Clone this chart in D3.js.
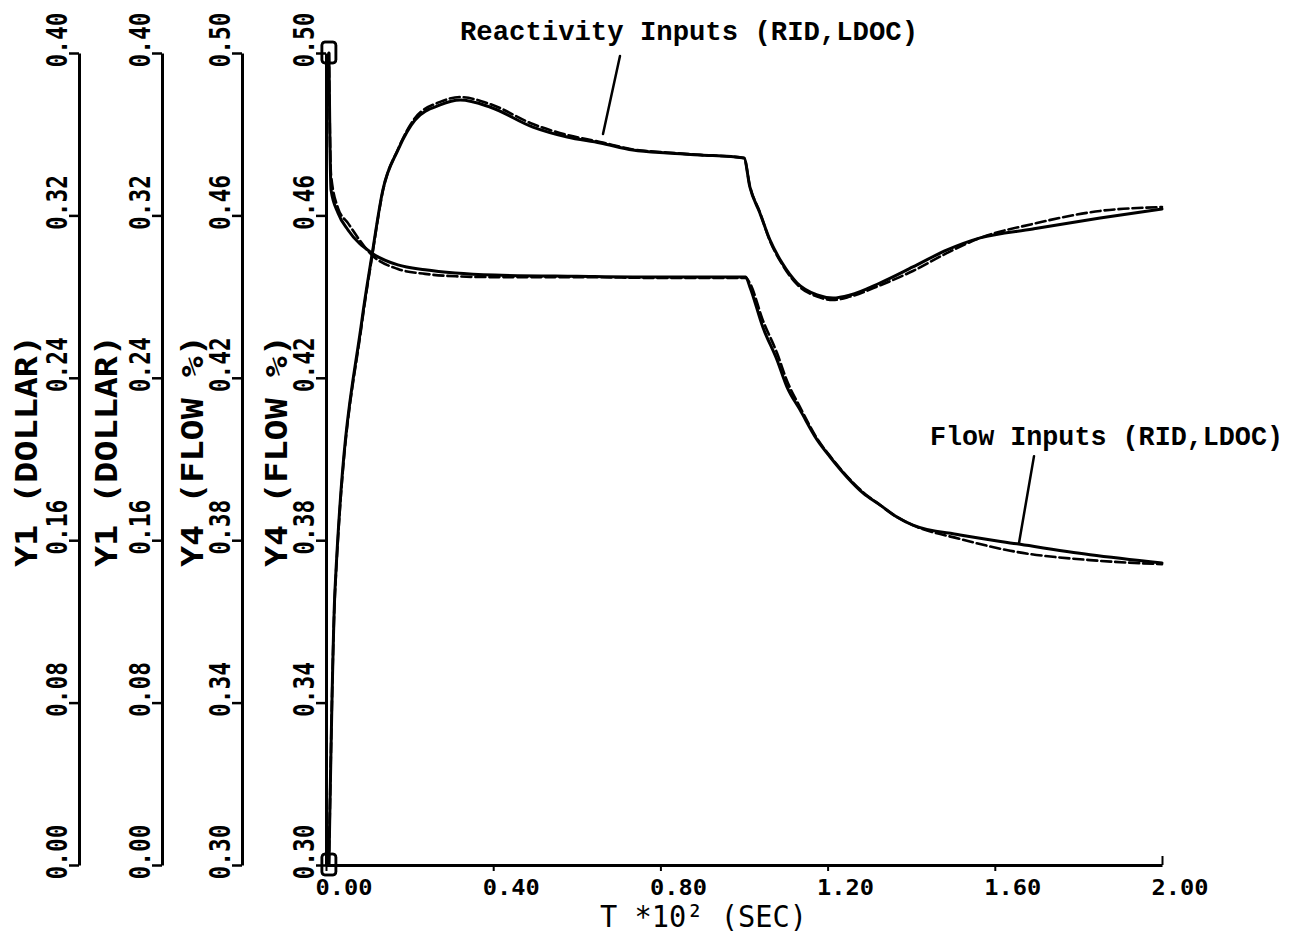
<!DOCTYPE html>
<html>
<head>
<meta charset="utf-8">
<script src="https://cdn.jsdelivr.net/npm/d3@7"></script>
<style>
  html, body { margin: 0; padding: 0; background: #fff; }
  svg { display: block; }
</style>
</head>
<body>
<svg id="chart" width="1296" height="933"></svg>
<script>
// Time base, units of 10^2 s
const xTicks = [0.00, 0.40, 0.80, 1.20, 1.60, 2.00];
const dollarTicks = [0.00, 0.08, 0.16, 0.24, 0.32, 0.40];
const flowTicks = [0.30, 0.34, 0.38, 0.42, 0.46, 0.50];
const axisNames = ["Y1 (DOLLAR)", "Y1 (DOLLAR)", "Y4 (FLOW %)", "Y4 (FLOW %)"];

// Reactivity (dollars) – RID and LDOC
const timeReact = [0.007, 0.0215, 0.086, 0.110, 0.136, 0.172, 0.213, 0.273, 0.321, 0.392,
  0.495, 0.577, 0.656, 0.734, 0.816, 0.895, 1.000, 1.014, 1.038, 1.062, 1.091, 1.127,
  1.175, 1.213, 1.254, 1.325, 1.404, 1.486, 1.565, 1.691, 1.852, 2.000];
const reactRID = [0, 0.1355, 0.2685, 0.3005, 0.3325, 0.3522, 0.3670, 0.3744, 0.3768, 0.3734,
  0.3635, 0.3586, 0.3557, 0.3522, 0.3507, 0.3498, 0.3483, 0.3340, 0.3212, 0.3079, 0.2966, 0.2867,
  0.2808, 0.2793, 0.2808, 0.2867, 0.2946, 0.3030, 0.3089, 0.3133, 0.3187, 0.3232];
const reactLDOC = [0, 0.1340, 0.2670, 0.2995, 0.3320, 0.3525, 0.3680, 0.3759, 0.3783, 0.3749,
  0.3650, 0.3596, 0.3562, 0.3525, 0.3510, 0.3498, 0.3483, 0.3345, 0.3215, 0.3075, 0.2960, 0.2860,
  0.2800, 0.2783, 0.2800, 0.2855, 0.2926, 0.3015, 0.3089, 0.3158, 0.3222, 0.3241];

// Flow fraction – RID and LDOC
const timeFlow = [0.007, 0.0096, 0.012, 0.0287, 0.0526, 0.110, 0.172, 0.237, 0.309, 0.404,
  0.600, 0.800, 1.004, 1.014, 1.045, 1.079, 1.103, 1.134, 1.175, 1.206, 1.246, 1.285,
  1.325, 1.366, 1.404, 1.517, 1.653, 1.828, 2.000];
const flowRID = [0.5000, 0.4768, 0.4663, 0.4606, 0.4564, 0.4507, 0.4478, 0.4466, 0.4458, 0.4453,
  0.4450, 0.4448, 0.4448, 0.4424, 0.4325, 0.4244, 0.4177, 0.4121, 0.4047, 0.4005, 0.3956, 0.3916,
  0.3887, 0.3857, 0.3837, 0.3813, 0.3791, 0.3764, 0.3744];
const flowLDOC = [0.5000, 0.4790, 0.4700, 0.4618, 0.4581, 0.4502, 0.4468, 0.4456, 0.4450, 0.4448,
  0.4448, 0.4446, 0.4446, 0.4433, 0.4342, 0.4261, 0.4192, 0.4128, 0.4050, 0.4007, 0.3958, 0.3918,
  0.3887, 0.3857, 0.3837, 0.3803, 0.3771, 0.3751, 0.3741];

// Callout labels: text anchor and leader line, in data units of the given scale
const callouts = [
  { text: "Reactivity Inputs (RID,LDOC)", scale: "dollar", tx: 0.3206, ty: 0.4064, len: 458,
    from: [0.7033, 0.3985], to: [0.6627, 0.3601] },
  { text: "Flow Inputs (RID,LDOC)", scale: "flow", tx: 1.445, ty: 0.4034, len: 353,
    from: [1.6938, 0.4007], to: [1.6579, 0.3793] }
];

(function () {
  const svg = d3.select("#chart");
  const W = 1296, H = 933;
  svg.append("rect").attr("width", W).attr("height", H).attr("fill", "#fff");

  const plotTop = 53, plotBottom = 865, plotLeft = 326, plotRight = 1162;
  const x = d3.scaleLinear().domain([0, 2]).range([plotLeft, plotRight]);
  const yDollar = d3.scaleLinear().domain([0, 0.4]).range([plotBottom, plotTop]);
  const yFlow = d3.scaleLinear().domain([0.3, 0.5]).range([plotBottom, plotTop]);
  const scales = { dollar: yDollar, flow: yFlow };

  const plotFont = "'DejaVu Sans Mono', monospace";
  const fmt = d3.format(".2f");

  // Stacked vertical axes on the left
  const axisDefs = [
    { pos: 79,  scale: yDollar, ticks: dollarTicks, name: axisNames[0], labelX: 37 },
    { pos: 162, scale: yDollar, ticks: dollarTicks, name: axisNames[1], labelX: 117 },
    { pos: 242, scale: yFlow,   ticks: flowTicks,   name: axisNames[2], labelX: 203 },
    { pos: 326, scale: yFlow,   ticks: flowTicks,   name: axisNames[3], labelX: 287 }
  ];

  axisDefs.forEach(a => {
    const g = svg.append("g").attr("transform", `translate(${a.pos},0)`)
      .call(d3.axisLeft(a.scale).tickValues(a.ticks).tickSize(10).tickSizeOuter(0).tickFormat(fmt));
    g.select(".domain").attr("stroke", "#000").attr("stroke-width", 3);
    g.selectAll(".tick line").attr("stroke", "#000").attr("stroke-width", 2.5);
    g.selectAll(".tick text")
      .attr("transform", "rotate(-90)")
      .attr("x", -14).attr("y", -12).attr("dy", 0)
      .attr("text-anchor", "start")
      .attr("fill", "#000")
      .style("font-family", plotFont).style("font-weight", "bold").style("font-size", "28px")
      .attr("textLength", 55).attr("lengthAdjust", "spacingAndGlyphs");

    svg.append("text")
      .attr("transform", `translate(${a.labelX},567) rotate(-90)`)
      .attr("text-anchor", "start")
      .style("font-family", plotFont).style("font-weight", "bold").style("font-size", "31px")
      .attr("textLength", 232).attr("lengthAdjust", "spacingAndGlyphs")
      .text(a.name);
  });

  // Time axis
  const gx = svg.append("g").attr("transform", `translate(0,${plotBottom})`)
    .call(d3.axisBottom(x).tickValues(xTicks).tickSize(6).tickSizeOuter(0).tickFormat(fmt));
  gx.select(".domain").attr("stroke", "#000").attr("stroke-width", 3);
  gx.selectAll(".tick line").attr("stroke", "#000").attr("stroke-width", 2)
    .attr("y2", d => d === 2 ? -9 : 6);
  gx.selectAll(".tick text")
    .attr("x", -11).attr("y", 30).attr("dy", 0)
    .attr("text-anchor", "start").attr("fill", "#000")
    .style("font-family", plotFont).style("font-weight", "bold").style("font-size", "21px")
    .attr("textLength", 57).attr("lengthAdjust", "spacingAndGlyphs");

  svg.append("text")
    .attr("x", 600).attr("y", 927)
    .style("font-family", plotFont).style("font-size", "31px")
    .attr("textLength", 207).attr("lengthAdjust", "spacingAndGlyphs")
    .text("T *10² (SEC)");

  // Curves
  function drawSeries(times, values, yScale, dashed) {
    const pts = times.map((t, i) => [t, values[i]]);
    const line = d3.line().x(d => x(d[0])).y(d => yScale(d[1]))
      .curve(d3.curveMonotoneX);
    svg.append("path").datum(pts)
      .attr("d", line)
      .attr("fill", "none").attr("stroke", "#000")
      .attr("stroke-width", dashed ? 2.6 : 3)
      .attr("stroke-linejoin", "round").attr("stroke-linecap", "round")
      .attr("stroke-dasharray", dashed ? "10,4" : null);
    // start symbol
    const sx = x(pts[0][0]), sy = yScale(pts[0][1]);
    svg.append("rect")
      .attr("x", sx - 7).attr("y", sy - 11).attr("width", 14).attr("height", 21)
      .attr("rx", 3)
      .attr("fill", "none").attr("stroke", "#000").attr("stroke-width", 2.5);
  }

  drawSeries(timeReact, reactRID, yDollar, false);
  drawSeries(timeReact, reactLDOC, yDollar, true);
  drawSeries(timeFlow, flowRID, yFlow, false);
  drawSeries(timeFlow, flowLDOC, yFlow, true);

  // Callouts
  callouts.forEach(c => {
    const ys = scales[c.scale];
    svg.append("text")
      .attr("x", x(c.tx)).attr("y", ys(c.ty))
      .style("font-family", "'Liberation Mono', 'Courier New', monospace")
      .style("font-weight", "bold").style("font-size", "27px")
      .attr("textLength", c.len).attr("lengthAdjust", "spacingAndGlyphs")
      .text(c.text);
    svg.append("line")
      .attr("x1", x(c.from[0])).attr("y1", ys(c.from[1]))
      .attr("x2", x(c.to[0])).attr("y2", ys(c.to[1]))
      .attr("stroke", "#000").attr("stroke-width", 2.5).attr("stroke-linecap", "round");
  });
})();
</script>
</body>
</html>
